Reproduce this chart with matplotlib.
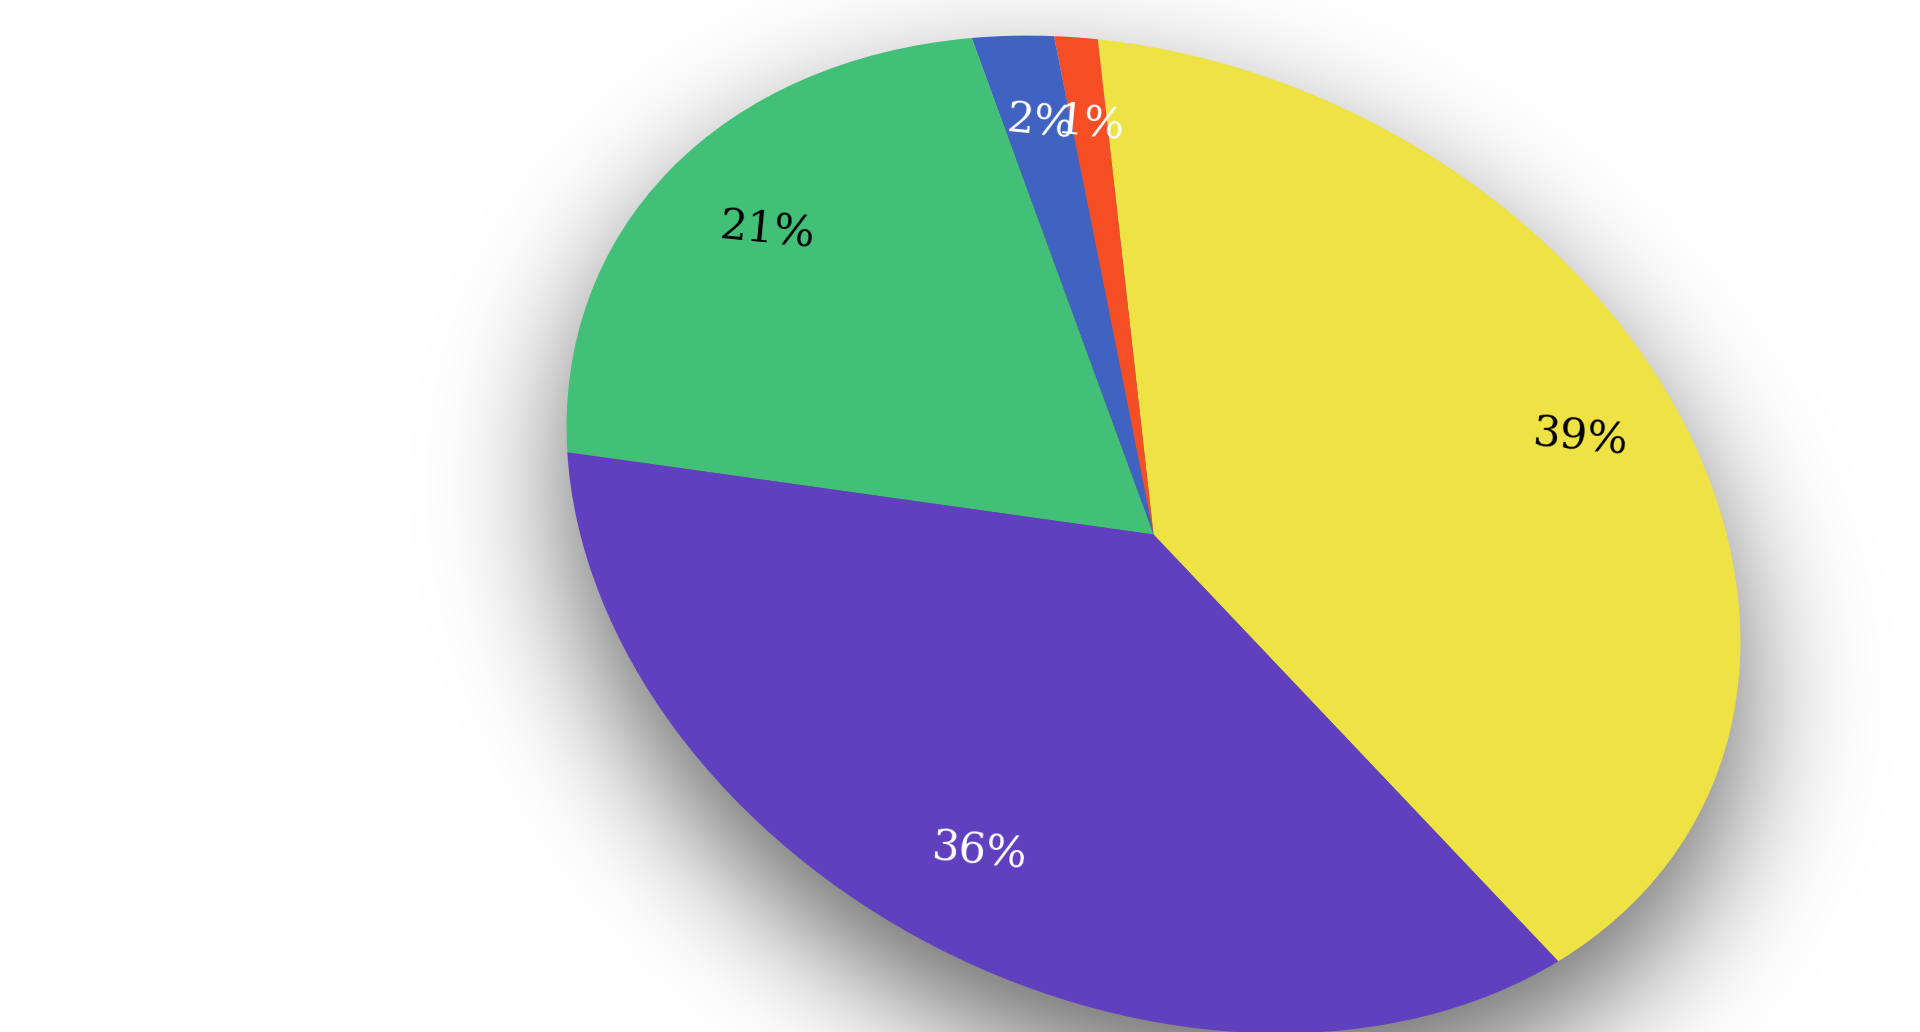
import numpy as np
import matplotlib
matplotlib.use("Agg")
import matplotlib.pyplot as plt
from matplotlib.transforms import Affine2D

# ==============================================================================
# DATA
# ==============================================================================
shares = [39.4, 1.2, 2.3, 20.8, 36.3]
colors = ["#EEE244", "#F54E24", "#4062C0", "#42C078", "#6040BF"]
label_colors = ["black", "white", "white", "black", "white"]

# ==============================================================================
# CONFIG
# ==============================================================================
W, H = 1920, 1032
CENTER = (1153.5, 1032 - 534.5)     # pie centre, pixel coords (y up)
SEMI_AXES = (613, 466.5)            # tilted look: circle squashed into an ellipse
TILT_DEG = -26.4
START_ANGLE = 334.3
SH_DX, SH_DY = 0, -55               # shadow offset (px)
SH_SIGMA = 65
SH_ALPHA = 0.6
LABEL_NUDGE = 13                    # labels sit a bit higher than pctdistance gives

pie_aff = (Affine2D().scale(*SEMI_AXES)
           .rotate_deg(TILT_DEG)
           .translate(*CENTER))

fig = plt.figure(figsize=(W / 100, H / 100), dpi=100)
ax = fig.add_axes([0, 0, 1, 1])

# --- soft drop shadow ---
pad = 260
yy, xx = np.mgrid[-pad:H + pad, -pad:W + pad] + 0.5
pts = pie_aff.inverted().transform(
    np.column_stack([xx.ravel() - SH_DX, yy.ravel() - SH_DY]))
mask = (np.hypot(pts[:, 0], pts[:, 1]) <= 1).reshape(xx.shape).astype(float)
fy = np.fft.fftfreq(mask.shape[0])[:, None]
fx = np.fft.rfftfreq(mask.shape[1])[None, :]
blur = np.fft.irfft2(np.fft.rfft2(mask) *
                     np.exp(-2 * np.pi ** 2 * SH_SIGMA ** 2 * (fx ** 2 + fy ** 2)),
                     s=mask.shape)
shadow = np.zeros(mask.shape + (4,))
shadow[..., 3] = np.clip(blur, 0, 1) * SH_ALPHA
ax.imshow(shadow, extent=[-pad, W + pad, -pad, H + pad], origin="lower",
          interpolation="bilinear", zorder=0)

# --- pie ---
wedges, _, autotexts = ax.pie(
    shares,
    colors=colors,
    startangle=START_ANGLE,
    counterclock=True,
    radius=1,
    center=(0, 0),
    autopct=lambda p: f"{p:.0f}%",
    pctdistance=0.8,
    wedgeprops=dict(linewidth=0),
)
for w in wedges:
    w.set_transform(pie_aff + ax.transData)
    w.set_zorder(2)
label_tr = pie_aff + Affine2D().translate(0, LABEL_NUDGE) + ax.transData
for t, c in zip(autotexts, label_colors):
    t.set_transform(label_tr)
    t.set_color(c)
    t.set_fontfamily("DejaVu Serif")
    t.set_fontsize(31)
    t.set_rotation(-5.5)
    t.set_zorder(3)

ax.set_xlim(0, W)
ax.set_ylim(0, H)
ax.set_aspect("auto")
ax.axis("off")

fig.savefig("out.png", dpi=100, facecolor="white")
